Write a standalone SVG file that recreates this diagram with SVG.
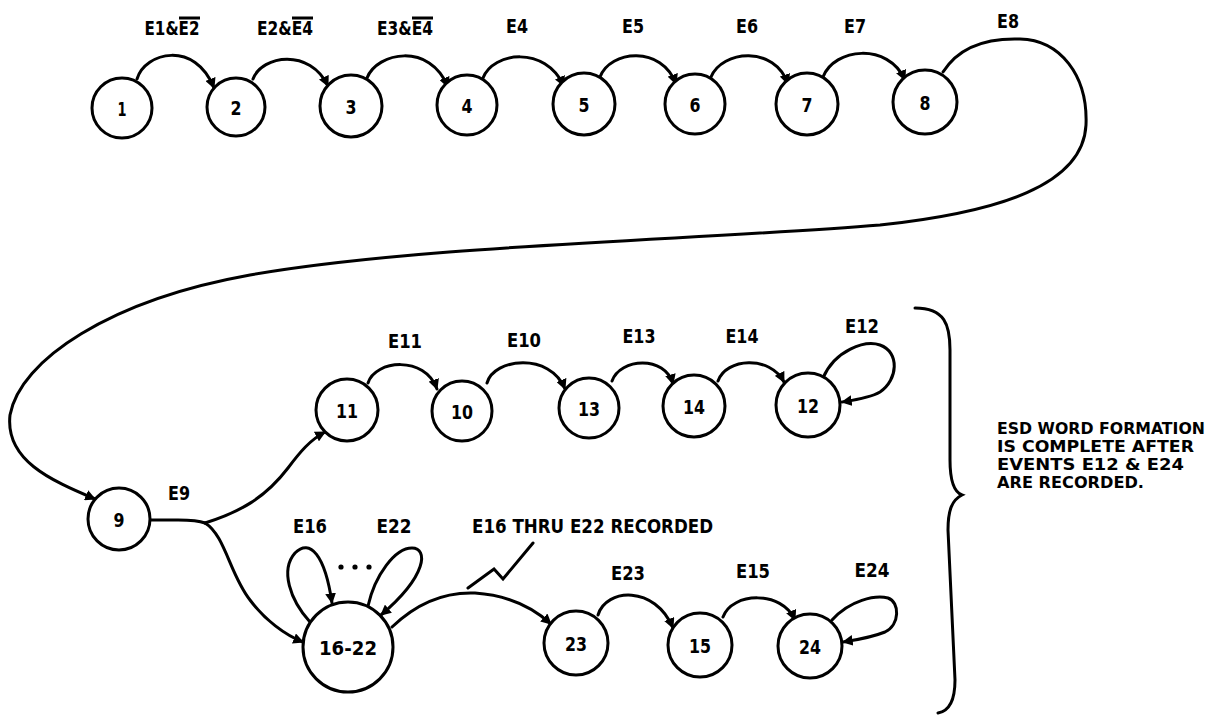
<svg xmlns="http://www.w3.org/2000/svg" width="1212" height="715" viewBox="0 0 1212 715">
  <style>
    text { font-family: "DejaVu Sans", "Liberation Sans", sans-serif; font-weight: bold; font-size: 20px; fill: #000; }
    .lbl { text-anchor: middle; }
    .num { text-anchor: middle; dominant-baseline: central; }
    .note { font-size: 15.2px; }
    .node circle { fill: #fff; stroke: #000; stroke-width: 3; }
    .edge { fill: none; stroke: #000; stroke-width: 3; stroke-linecap: round; }
    .arr { marker-end: url(#head); }
    .bar { stroke: #000; stroke-width: 3; }
  </style>
  <defs>
    <marker id="head" viewBox="0 0 10 10" refX="9" refY="5" markerWidth="3.6" markerHeight="3.6" orient="auto" markerUnits="strokeWidth">
      <path d="M0,0 L10,5 L0,10 z" fill="#000"/>
    </marker>
  </defs>

  <rect width="1212" height="715" fill="#fff"/>

  <!-- connectors -->
  <g id="connectors">
    <!-- top row -->
    <path class="edge arr" d="M137,79 C145,52 195,40 214,88"/>
    <path class="edge arr" d="M253,79 C262,55 310,48 328,86"/>
    <path class="edge arr" d="M367,78 C377,52 430,42 448,87"/>
    <path class="edge arr" d="M483,78 C493,52 545,45 564,86"/>
    <path class="edge arr" d="M600,77 C610,50 662,45 676,84"/>
    <path class="edge arr" d="M711,77 C722,50 775,45 788,84"/>
    <path class="edge arr" d="M823,77 C834,48 888,42 905,80"/>
    <!-- E8: long return loop from 8 down to 9 -->
    <path class="edge arr" d="M943,72 C960,45 990,38 1020,39 C1060,40 1088,75 1086,125 C1083,185 1000,212 880,225 C700,240 420,245 250,275 C110,300 20,360 10,415 C5,460 50,480 95,499"/>
    <!-- E9 fork -->
    <path class="edge" d="M150,520 L178,520 C192,520 200,521 205,523"/>
    <path class="edge arr" d="M205,523 C240,512 265,498 288,468 C300,452 310,440 325,432"/>
    <path class="edge arr" d="M205,523 C225,535 230,575 250,600 C265,620 285,635 303,642"/>
    <!-- second row -->
    <path class="edge arr" d="M368,383 C375,360 425,355 437,389"/>
    <path class="edge arr" d="M487,383 C494,358 550,352 565,389"/>
    <path class="edge arr" d="M612,381 C620,358 665,355 673,384"/>
    <path class="edge arr" d="M718,381 C726,358 770,355 784,382"/>
    <path class="edge arr" d="M823,378 C835,350 865,340 880,345 C900,352 898,380 880,392 C870,398 855,400 842,402"/>
    <!-- self loops on 16-22 -->
    <path class="edge arr" d="M310,622 C290,600 280,570 295,553 C310,538 325,555 332,603"/>
    <path class="edge arr" d="M368,606 C375,575 395,548 412,548 C428,548 428,575 381,615"/>
    <!-- bottom row -->
    <path class="edge arr" d="M392,627 C420,600 450,592 475,593 C505,595 530,605 551,624"/>
    <path class="edge arr" d="M598,615 C606,588 655,585 673,628"/>
    <path class="edge arr" d="M723,617 C732,592 782,590 795,620"/>
    <path class="edge arr" d="M832,620 C850,600 875,595 888,598 C900,602 900,625 885,632 C870,638 855,640 843,642"/>
    <!-- callout stroke -->
    <polyline class="edge" points="468,588 494,569 503,579 533,543"/>
    <!-- brace -->
    <path class="edge" stroke-width="2.5" d="M915,308 C945,308 950,325 950,350 L950,460 C950,480 954,492 962,495 C952,500 948,510 948,530 L955,680 C955,700 950,711 938,713"/>
  </g>

  <!-- nodes -->
  <g id="n1" class="node"><circle cx="122" cy="108" r="30"/><text class="num" x="122" y="109" textLength="9" lengthAdjust="spacingAndGlyphs">1</text></g>
  <g id="n2" class="node"><circle cx="236" cy="107" r="29"/><text class="num" x="236" y="108" textLength="11" lengthAdjust="spacingAndGlyphs">2</text></g>
  <g id="n3" class="node"><circle cx="351" cy="106" r="31"/><text class="num" x="351" y="107" textLength="11" lengthAdjust="spacingAndGlyphs">3</text></g>
  <g id="n4" class="node"><circle cx="467" cy="105" r="30"/><text class="num" x="467" y="106" textLength="11" lengthAdjust="spacingAndGlyphs">4</text></g>
  <g id="n5" class="node"><circle cx="584" cy="104" r="31"/><text class="num" x="584" y="105" textLength="11" lengthAdjust="spacingAndGlyphs">5</text></g>
  <g id="n6" class="node"><circle cx="695" cy="104" r="30"/><text class="num" x="695" y="105" textLength="11" lengthAdjust="spacingAndGlyphs">6</text></g>
  <g id="n7" class="node"><circle cx="807" cy="104" r="31"/><text class="num" x="807" y="105" textLength="11" lengthAdjust="spacingAndGlyphs">7</text></g>
  <g id="n8" class="node"><circle cx="925" cy="102" r="32"/><text class="num" x="925" y="103" textLength="11" lengthAdjust="spacingAndGlyphs">8</text></g>
  <g id="n9" class="node"><circle cx="119" cy="519" r="31"/><text class="num" x="119" y="520" textLength="11" lengthAdjust="spacingAndGlyphs">9</text></g>
  <g id="n11" class="node"><circle cx="347" cy="410" r="31"/><text class="num" x="347" y="411" textLength="22" lengthAdjust="spacingAndGlyphs">11</text></g>
  <g id="n10" class="node"><circle cx="462" cy="411" r="30"/><text class="num" x="462" y="412" textLength="22" lengthAdjust="spacingAndGlyphs">10</text></g>
  <g id="n13" class="node"><circle cx="589" cy="408" r="30"/><text class="num" x="589" y="409" textLength="22" lengthAdjust="spacingAndGlyphs">13</text></g>
  <g id="n14" class="node"><circle cx="694" cy="406" r="31"/><text class="num" x="694" y="407" textLength="22" lengthAdjust="spacingAndGlyphs">14</text></g>
  <g id="n12" class="node"><circle cx="808" cy="405" r="32"/><text class="num" x="808" y="406" textLength="22" lengthAdjust="spacingAndGlyphs">12</text></g>
  <g id="n16-22" class="node"><circle cx="348" cy="647" r="45"/><text class="num" x="348" y="648" textLength="58" lengthAdjust="spacingAndGlyphs">16-22</text></g>
  <g id="n23" class="node"><circle cx="576" cy="643" r="32"/><text class="num" x="576" y="644" textLength="22" lengthAdjust="spacingAndGlyphs">23</text></g>
  <g id="n15" class="node"><circle cx="700" cy="645" r="32"/><text class="num" x="700" y="646" textLength="22" lengthAdjust="spacingAndGlyphs">15</text></g>
  <g id="n24" class="node"><circle cx="810" cy="646" r="32"/><text class="num" x="810" y="647" textLength="22" lengthAdjust="spacingAndGlyphs">24</text></g>

  <!-- ellipsis between the 16-22 self loops -->
  <g id="dots">
    <circle cx="341" cy="567" r="2.6"/>
    <circle cx="355" cy="567" r="2.6"/>
    <circle cx="369" cy="567" r="2.6"/>
  </g>

  <!-- edge labels -->
  <g id="labels">
    <text class="lbl" x="172" y="35" textLength="55" lengthAdjust="spacingAndGlyphs">E1&amp;E2</text>
    <line class="bar" x1="179" y1="18" x2="200" y2="18"/>
    <text class="lbl" x="285" y="35" textLength="56" lengthAdjust="spacingAndGlyphs">E2&amp;E4</text>
    <line class="bar" x1="292" y1="18" x2="313" y2="18"/>
    <text class="lbl" x="405" y="35" textLength="56" lengthAdjust="spacingAndGlyphs">E3&amp;E4</text>
    <line class="bar" x1="412" y1="18" x2="433" y2="18"/>
    <text class="lbl" x="517" y="33" textLength="22" lengthAdjust="spacingAndGlyphs">E4</text>
    <text class="lbl" x="633" y="33" textLength="22" lengthAdjust="spacingAndGlyphs">E5</text>
    <text class="lbl" x="747" y="33" textLength="22" lengthAdjust="spacingAndGlyphs">E6</text>
    <text class="lbl" x="855" y="33" textLength="22" lengthAdjust="spacingAndGlyphs">E7</text>
    <text class="lbl" x="1008" y="28" textLength="22" lengthAdjust="spacingAndGlyphs">E8</text>
    <text class="lbl" x="179" y="500" textLength="22" lengthAdjust="spacingAndGlyphs">E9</text>
    <text class="lbl" x="405" y="348" textLength="34" lengthAdjust="spacingAndGlyphs">E11</text>
    <text class="lbl" x="524" y="347" textLength="34" lengthAdjust="spacingAndGlyphs">E10</text>
    <text class="lbl" x="639" y="343" textLength="33" lengthAdjust="spacingAndGlyphs">E13</text>
    <text class="lbl" x="742" y="343" textLength="33" lengthAdjust="spacingAndGlyphs">E14</text>
    <text class="lbl" x="862" y="333" textLength="34" lengthAdjust="spacingAndGlyphs">E12</text>
    <text class="lbl" x="310" y="533" textLength="34" lengthAdjust="spacingAndGlyphs">E16</text>
    <text class="lbl" x="394" y="533" textLength="35" lengthAdjust="spacingAndGlyphs">E22</text>
    <text x="472" y="533" textLength="241" lengthAdjust="spacingAndGlyphs">E16 THRU E22 RECORDED</text>
    <text class="lbl" x="628" y="580" textLength="34" lengthAdjust="spacingAndGlyphs">E23</text>
    <text class="lbl" x="753" y="578" textLength="34" lengthAdjust="spacingAndGlyphs">E15</text>
    <text class="lbl" x="872" y="577" textLength="35" lengthAdjust="spacingAndGlyphs">E24</text>
  </g>

  <!-- note beside the brace -->
  <g id="note">
    <text class="note" x="997" y="434" textLength="208" lengthAdjust="spacingAndGlyphs">ESD WORD FORMATION</text>
    <text class="note" x="997" y="452" textLength="197" lengthAdjust="spacingAndGlyphs">IS COMPLETE AFTER</text>
    <text class="note" x="997" y="470" textLength="187" lengthAdjust="spacingAndGlyphs">EVENTS E12 &amp; E24</text>
    <text class="note" x="997" y="488" textLength="147" lengthAdjust="spacingAndGlyphs">ARE RECORDED.</text>
  </g>
</svg>
